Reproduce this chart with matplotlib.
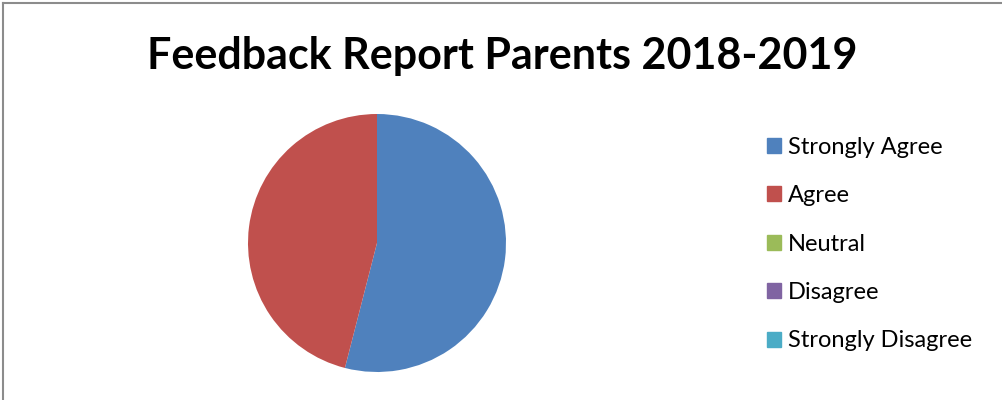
import matplotlib
matplotlib.use("Agg")
import matplotlib.pyplot as plt
from matplotlib.lines import Line2D

categories = ["Strongly Agree", "Agree", "Neutral", "Disagree", "Strongly Disagree"]
values = [54, 46, 0, 0, 0]
colors = ["#4F81BD", "#C0504D", "#9BBB59", "#8064A2", "#4BACC6"]

plt.rcParams["font.family"] = ["Lato", "DejaVu Sans"]

W, H = 1002, 400
fig = plt.figure(figsize=(W / 100, H / 100), dpi=100)

# chart frame (only left/top edges visible in the crop)
fig.add_artist(Line2D([2.5 / W, 2.5 / W], [0, 1 - 2.5 / H], color="#8c8c8c", lw=1.5))
fig.add_artist(Line2D([2.5 / W, 1], [1 - 2.5 / H, 1 - 2.5 / H], color="#8c8c8c", lw=1.5))

fig.text(502 / W, 1 - 56 / H, "Feedback Report Parents 2018-2019",
         ha="center", va="center", fontsize=31, fontweight="bold")

# pie centred at (377, 243) px, radius 129 px
ax = fig.add_axes([248 / W, 28 / H, 258 / W, 258 / H])
nz = [(v, c) for v, c in zip(values, colors) if v > 0]
ax.pie([v for v, _ in nz], colors=[c for _, c in nz], startangle=90,
       counterclock=False, radius=1.0)
ax.set_xlim(-1, 1)
ax.set_ylim(-1, 1)
ax.set_aspect("equal")
ax.axis("off")

handles = [plt.Rectangle((0, 0), 1, 1, color=c) for c in colors]
leg = fig.legend(handles, categories, loc="upper left",
                 bbox_to_anchor=(755 / W, 1 - 125 / H), frameon=False,
                 fontsize=17, handlelength=0.6, handleheight=0.6,
                 handletextpad=0.3, labelspacing=1.16, borderpad=0)

fig.savefig("out.png", dpi=100)
